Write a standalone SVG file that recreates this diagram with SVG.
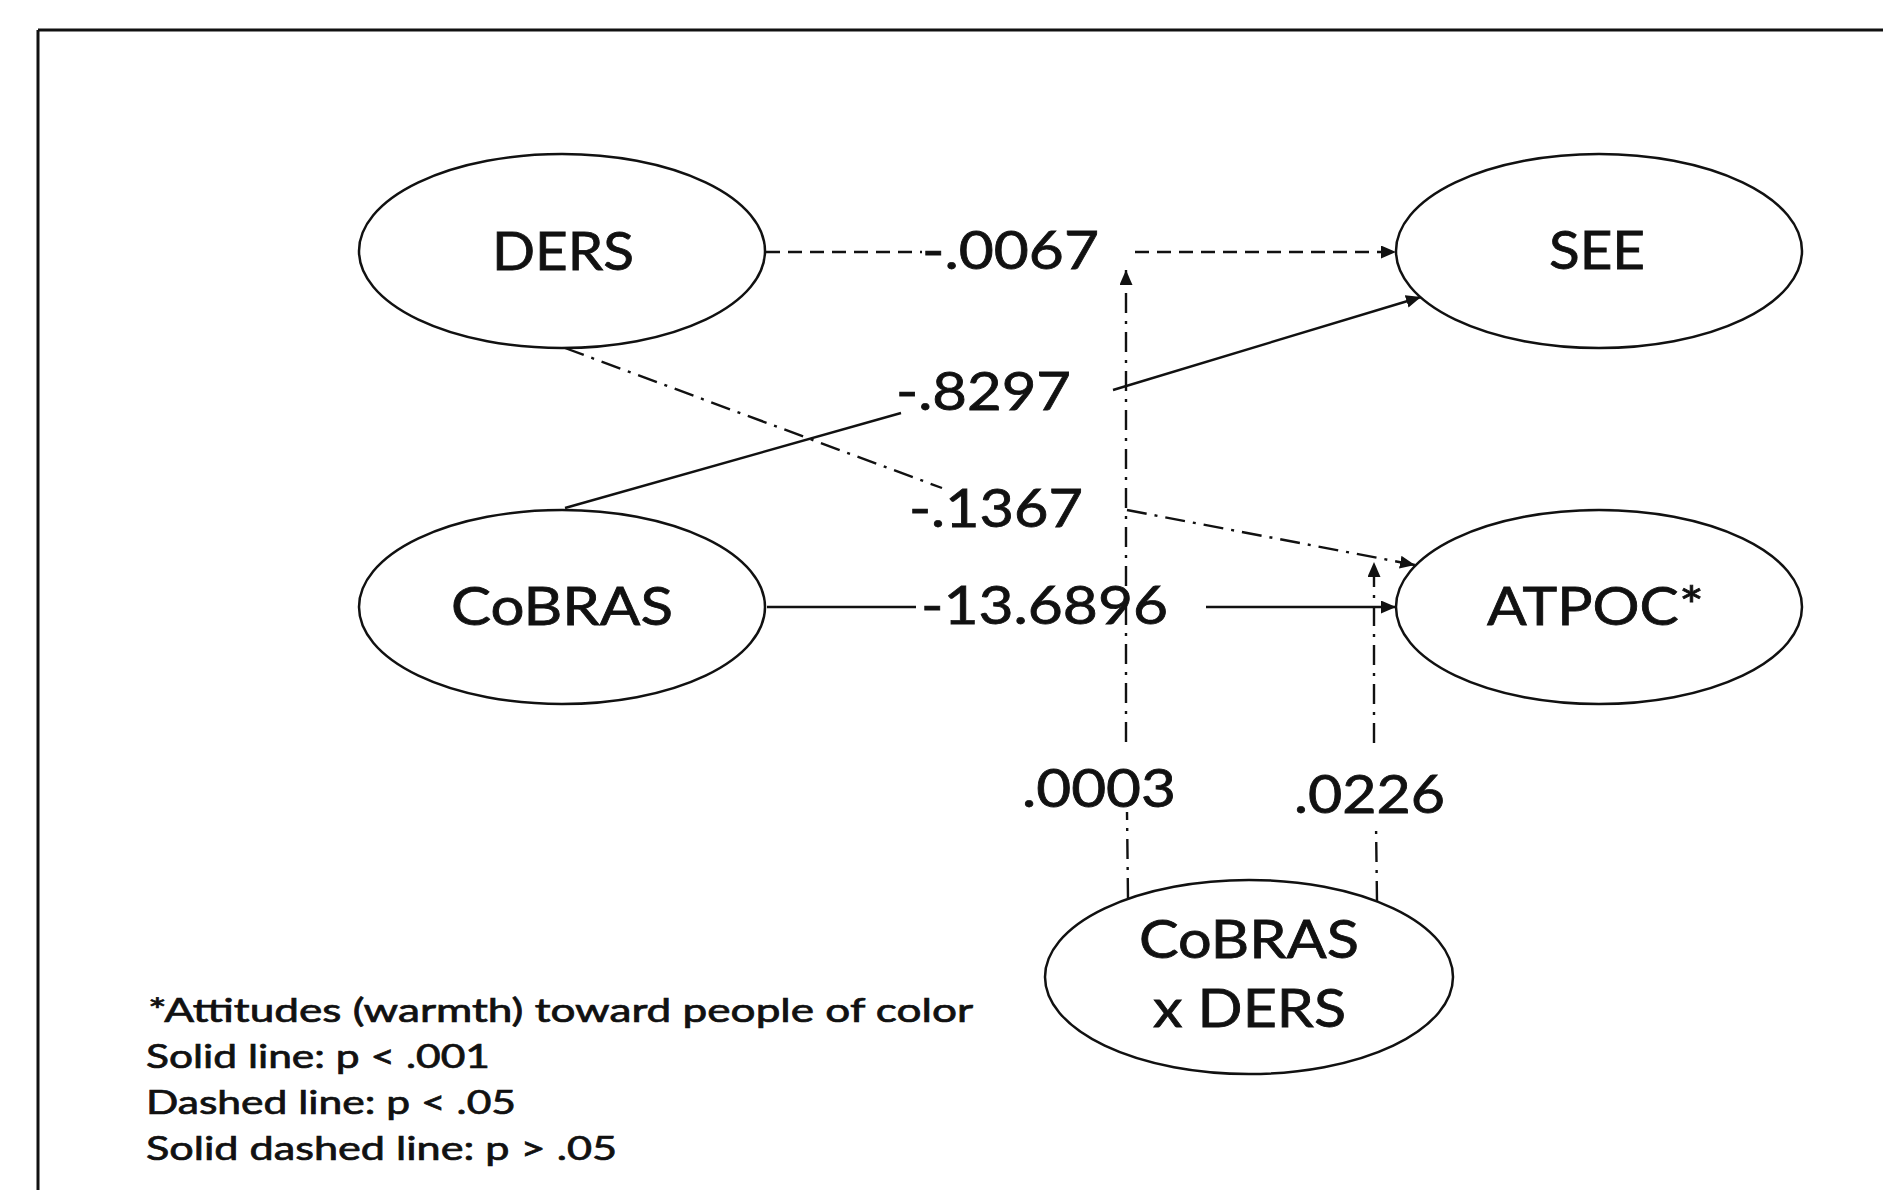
<svg xmlns="http://www.w3.org/2000/svg" width="1883" height="1190" viewBox="0 0 1883 1190">
<style>
.node ellipse{fill:#fff;stroke:#111;stroke-width:2.5}
.nl{font-family:Lato,"Open Sans","Liberation Sans",sans-serif;font-size:53px;fill:#111;stroke:#111;stroke-width:0.8}
.el{font-family:Lato,"Open Sans","Liberation Sans",sans-serif;font-size:53px;fill:#111;stroke:#111;stroke-width:0.8}
.lg{font-family:Lato,"Open Sans","Liberation Sans",sans-serif;font-size:32px;fill:#111;stroke:#111;stroke-width:0.7}
.c{fill:none;stroke:#111;stroke-width:2.4}
.dash{stroke-dasharray:14 8}
.dd{stroke-dasharray:20 8 3 8}
</style>
<defs>
<marker id="arr" markerUnits="userSpaceOnUse" markerWidth="17" markerHeight="13" refX="15" refY="6.5" orient="auto">
<path d="M0,0 L15,6.5 L0,13 z" fill="#111"/>
</marker>
</defs>
<rect width="1883" height="1190" fill="#fff"/>
<g id="frame" stroke="#111" stroke-width="3">
<line x1="38" y1="30" x2="1883" y2="30"/>
<line x1="38" y1="30" x2="38" y2="1190"/>
</g>
<g id="connectors">
<line class="c dash" x1="766" y1="252" x2="922" y2="252"/>
<line class="c dash" x1="1135" y1="252" x2="1396" y2="252" marker-end="url(#arr)"/>
<line class="c" x1="565" y1="508" x2="901" y2="413"/>
<line class="c" x1="1113" y1="390" x2="1421" y2="297" marker-end="url(#arr)"/>
<line class="c dd" x1="565" y1="348" x2="942" y2="488"/>
<line class="c dd" x1="1127" y1="510" x2="1415" y2="565" marker-end="url(#arr)"/>
<line class="c" x1="767" y1="607" x2="916" y2="607"/>
<line class="c" x1="1206" y1="607" x2="1396" y2="607" marker-end="url(#arr)"/>
<line class="c dd" x1="1128" y1="898" x2="1127" y2="812"/>
<line class="c dd" x1="1126" y1="742" x2="1126" y2="270" marker-end="url(#arr)"/>
<line class="c dd" x1="1377" y1="901" x2="1376" y2="823"/>
<line class="c dd" x1="1374" y1="743" x2="1374" y2="562" marker-end="url(#arr)"/>
</g>
<g id="edge-labels">
<text class="el" x="922" y="269" textLength="177" lengthAdjust="spacingAndGlyphs">-.0067</text>
<text class="el" x="896" y="410" textLength="175" lengthAdjust="spacingAndGlyphs">-.8297</text>
<text class="el" x="909" y="527" textLength="174" lengthAdjust="spacingAndGlyphs">-.1367</text>
<text class="el" x="921" y="624" textLength="247" lengthAdjust="spacingAndGlyphs">-13.6896</text>
<text class="el" x="1022" y="807" textLength="154" lengthAdjust="spacingAndGlyphs">.0003</text>
<text class="el" x="1294" y="813" textLength="151" lengthAdjust="spacingAndGlyphs">.0226</text>
</g>
<g id="node-ders" class="node">
<ellipse cx="562" cy="251" rx="203" ry="97"/>
<text class="nl" x="492" y="270" textLength="142" lengthAdjust="spacingAndGlyphs">DERS</text>
</g>
<g id="node-see" class="node">
<ellipse cx="1599" cy="251" rx="203" ry="97"/>
<text class="nl" x="1549" y="269" textLength="96" lengthAdjust="spacingAndGlyphs">SEE</text>
</g>
<g id="node-cobras" class="node">
<ellipse cx="562" cy="607" rx="203" ry="97"/>
<text class="nl" x="451" y="625" textLength="222" lengthAdjust="spacingAndGlyphs">CoBRAS</text>
</g>
<g id="node-atpoc" class="node">
<ellipse cx="1599" cy="607" rx="203" ry="97"/>
<text class="nl" x="1487" y="625" textLength="217" lengthAdjust="spacingAndGlyphs">ATPOC*</text>
</g>
<g id="node-cobras-x-ders" class="node">
<ellipse cx="1249" cy="977" rx="204" ry="97"/>
<text class="nl" x="1139" y="958" textLength="220" lengthAdjust="spacingAndGlyphs">CoBRAS</text>
<text class="nl" x="1153" y="1027" textLength="193" lengthAdjust="spacingAndGlyphs">x DERS</text>
</g>
<g id="legend">
<text class="lg" x="148" y="1022" textLength="825" lengthAdjust="spacingAndGlyphs">*Attitudes (warmth) toward people of color</text>
<text class="lg" x="146" y="1068" textLength="344" lengthAdjust="spacingAndGlyphs">Solid line: p &lt; .001</text>
<text class="lg" x="146" y="1114" textLength="370" lengthAdjust="spacingAndGlyphs">Dashed line: p &lt; .05</text>
<text class="lg" x="146" y="1160" textLength="471" lengthAdjust="spacingAndGlyphs">Solid dashed line: p &gt; .05</text>
</g>
</svg>
